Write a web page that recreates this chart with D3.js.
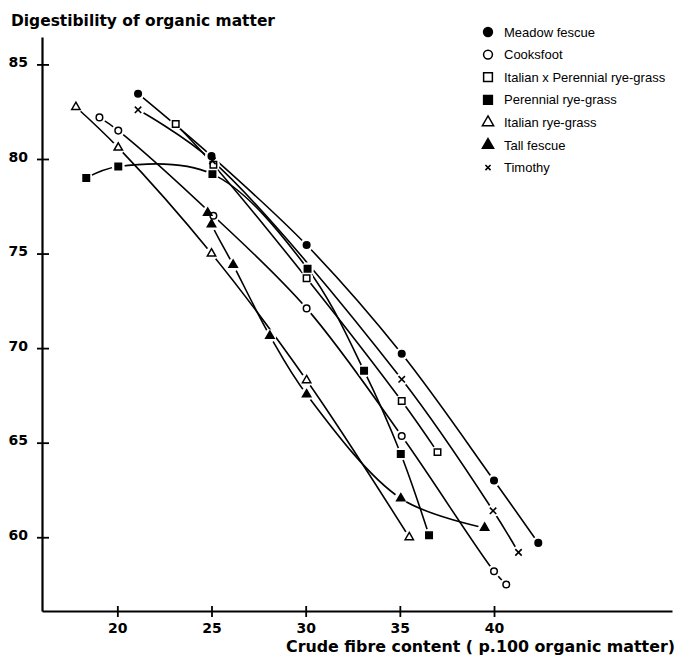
<!DOCTYPE html>
<html>
<head>
<meta charset="utf-8">
<style>
  body { margin: 0; background: #fff; }
  svg { display: block; }
</style>
</head>
<body>
<svg width="677" height="656"></svg>
<script src="https://d3js.org/d3.v7.min.js"></script>
<script>

// values: [crude fibre, digestibility]
var meadowFescue = [[21.1, 83.45], [25.0, 80.15], [30.05, 75.45], [35.1, 69.7], [40.0, 63.0], [42.35, 59.7]];
var cooksfoot = [[19.05, 82.2], [20.05, 81.5], [25.1, 77.0], [30.05, 72.1], [35.1, 65.35], [40.0, 58.2], [40.65, 57.5]];
var italianXPerennial = [[23.1, 81.85], [25.1, 79.7], [30.05, 73.7], [35.1, 67.2], [37.0, 64.5]];
var perennialRyeGrass = [[18.35, 79.0], [20.05, 79.6], [25.05, 79.2], [30.1, 74.2], [33.1, 68.8], [35.05, 64.4], [36.55, 60.1]];
var italianRyeGrass = [[17.8, 82.75], [20.05, 80.6], [25.0, 75.0], [30.05, 68.3], [35.5, 60.0]];
var tallFescue = [[24.8, 77.15], [25.0, 76.55], [26.15, 74.4], [28.1, 70.65], [30.05, 67.55], [35.05, 62.05], [39.5, 60.5]];
var timothy = [[21.1, 82.6], [25.05, 79.9], [35.1, 68.35], [39.95, 61.4], [41.3, 59.2]];

var xTicks = [20, 25, 30, 35, 40];
var yTicks = [60, 65, 70, 75, 80, 85];

var seriesNames = ["Meadow fescue", "Cooksfoot", "Italian x Perennial rye-grass",
  "Perennial rye-grass", "Italian rye-grass", "Tall fescue", "Timothy"];
var seriesData = [meadowFescue, cooksfoot, italianXPerennial, perennialRyeGrass,
  italianRyeGrass, tallFescue, timothy];
var markerKinds = ["dot", "ring", "openSquare", "square", "openTriangle", "triangle", "times"];

var svg = d3.select("svg");

var x = d3.scaleLinear().domain([16, 49.45]).range([42, 672]);
var y = d3.scaleLinear().domain([56.1, 86.45]).range([611, 37]);

// marker path + fill for each kind, s = scale factor
function marker(sel, kind, s) {
  var p;
  if (kind == "dot" || kind == "ring") p = d3.symbol(d3.symbolCircle, 34 * s * s)();
  else if (kind == "square" || kind == "openSquare") p = d3.symbol(d3.symbolSquare, 42 * s * s)();
  else if (kind == "triangle" || kind == "openTriangle") p = d3.symbol(d3.symbolTriangle, 30 * s * s)();
  else {
    var h = 3.2 * s;
    p = "M" + -h + "," + -h + "L" + h + "," + h + "M" + -h + "," + h + "L" + h + "," + -h;
  }
  var filled = (kind == "dot" || kind == "square" || kind == "triangle");
  sel.attr("d", p)
    .attr("fill", kind == "times" ? "none" : (filled ? "#000" : "#fff"))
    .attr("stroke", "#000")
    .attr("stroke-width", kind == "times" ? 1.6 : 1.5);
}

// axes
var xAxis = svg.append("g")
    .attr("transform", "translate(0,611)")
    .call(d3.axisBottom(x).tickValues(xTicks).tickSizeOuter(0).tickSizeInner(6).tickPadding(6));
var yAxis = svg.append("g")
    .attr("transform", "translate(42,0)")
    .call(d3.axisLeft(y).tickValues(yTicks).tickSizeOuter(0).tickSizeInner(6).tickPadding(8));

[xAxis, yAxis].forEach(function(a) {
  a.select(".domain").attr("stroke", "#000").attr("stroke-width", 2.2);
  a.selectAll(".tick line").attr("stroke", "#000").attr("stroke-width", 1.8);
  a.selectAll(".tick text")
    .attr("fill", "#000")
    .attr("font-family", "DejaVu Sans, sans-serif")
    .attr("font-weight", "bold")
    .attr("font-size", 14);
});
// ticks cross the axis line
xAxis.selectAll(".tick line").attr("y1", -5).attr("y2", 6);
yAxis.selectAll(".tick line").attr("x1", -5).attr("x2", 7);
yAxis.selectAll(".tick text").attr("dy", "0.15em");

// lines
var line = d3.line()
    .x(function(d) { return x(d[0]); })
    .y(function(d) { return y(d[1]); })
    .curve(d3.curveCatmullRom.alpha(0.5));

svg.append("g").selectAll("path")
  .data(seriesData)
  .enter().append("path")
    .attr("d", line)
    .attr("fill", "none")
    .attr("stroke", "#000")
    .attr("stroke-width", 1.6);

// white gaps round the points
var pts = [];
seriesData.forEach(function(s, i) {
  s.forEach(function(d) { pts.push({ x: d[0], y: d[1], kind: markerKinds[i] }); });
});

svg.append("g").selectAll("circle")
  .data(pts)
  .enter().append("circle")
    .attr("cx", function(d) { return x(d.x); })
    .attr("cy", function(d) { return y(d.y); })
    .attr("r", 6.5)
    .attr("fill", "#fff");

svg.append("g").selectAll("path")
  .data(pts)
  .enter().append("path")
    .attr("transform", function(d) { return "translate(" + x(d.x) + "," + y(d.y) + ")"; })
    .each(function(d) { marker(d3.select(this), d.kind, 1); });

// legend
var legend = svg.append("g").selectAll("g")
  .data(seriesNames)
  .enter().append("g")
    .attr("transform", function(d, i) { return "translate(488," + (32 + i * 22.6) + ")"; });

legend.append("path")
  .each(function(d, i) { marker(d3.select(this), markerKinds[i], i == 6 ? 0.8 : 1.35); });

legend.append("text")
  .attr("x", 16)
  .attr("dy", "0.35em")
  .attr("font-family", "Liberation Sans, Arial, sans-serif")
  .attr("font-size", 13)
  .text(function(d) { return d; });

// titles
svg.append("text")
  .attr("x", 11)
  .attr("y", 26)
  .attr("font-family", "DejaVu Sans, sans-serif")
  .attr("font-weight", "bold")
  .attr("font-size", 15.5)
  .attr("textLength", 264)
  .attr("lengthAdjust", "spacingAndGlyphs")
  .text("Digestibility of organic matter");

svg.append("text")
  .attr("x", 286)
  .attr("y", 652)
  .attr("font-family", "DejaVu Sans, sans-serif")
  .attr("font-weight", "bold")
  .attr("font-size", 15)
  .attr("textLength", 389)
  .attr("lengthAdjust", "spacingAndGlyphs")
  .text("Crude fibre content ( p.100 organic matter)");

</script>
</body>
</html>
